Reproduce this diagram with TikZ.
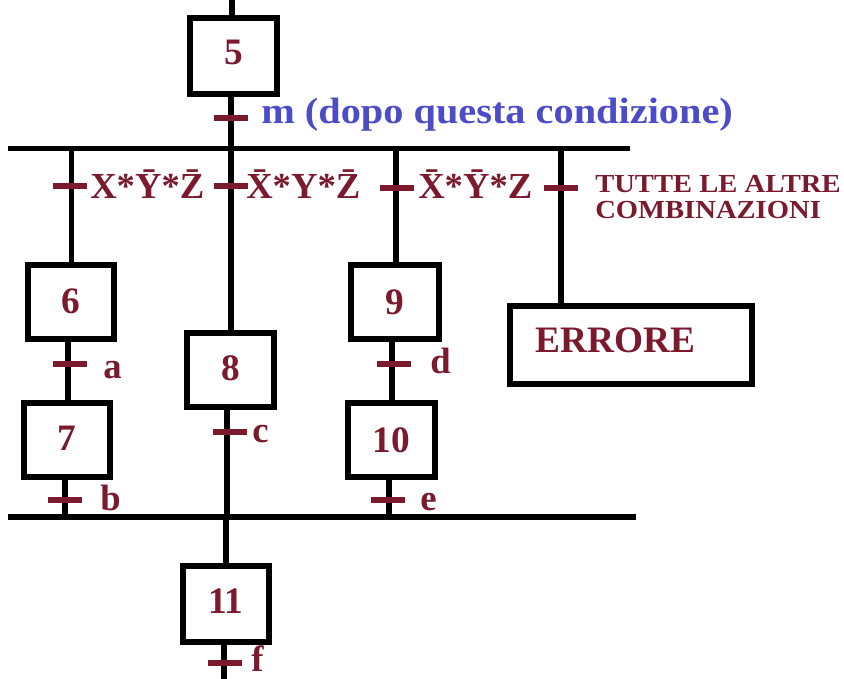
\documentclass[tikz,border=0pt]{standalone}
\usepackage{fontspec}
\setmainfont{Liberation Serif}
\newfontfamily\widefont[FakeStretch=1.1]{Liberation Serif}
\definecolor{maroon}{HTML}{7A1A2C}
\definecolor{bluelab}{HTML}{4C4CC8}
\begin{document}
\begin{tikzpicture}[x=0.75pt,y=-0.75pt,
  stepbox/.style={draw=black,line width=4.5pt,inner sep=0pt,font=\fontsize{28}{30}\selectfont\bfseries,text=maroon},
  tickn/.style={fill=maroon,inner sep=0pt,minimum width=25pt,minimum height=4.5pt},
  lab/.style={font=\fontsize{27.5}{30}\selectfont\bfseries,text=maroon,inner sep=0pt,anchor=base west},
  wire/.style={line width=4pt,black}]
\useasboundingbox (0,0) rectangle (844,679);
% steps
\node[stepbox,minimum width=65.25pt,minimum height=57pt,text depth=5pt] (s5) at (233.5,56) {5};
\node[stepbox,minimum width=64.5pt,minimum height=55.5pt,text depth=2pt] (s6) at (71,302) {6};
\node[stepbox,minimum width=64.5pt,minimum height=55.5pt,text depth=2pt] (s7) at (67,440) {7};
\node[stepbox,minimum width=65.25pt,minimum height=55.5pt,text depth=3pt] (s8) at (230.5,370) {8};
\node[stepbox,minimum width=66pt,minimum height=55.5pt] (s9) at (395,302) {9};
\node[stepbox,minimum width=65.25pt,minimum height=55.5pt] (s10) at (391.5,440) {10};
\node[stepbox,minimum width=64.5pt,minimum height=57pt,text depth=4pt] (s11) at (226,604) {11};
\node[stepbox,minimum width=181.5pt,minimum height=58.5pt] (err) at (631,345) {};
\node[lab,font=\fontsize{28}{30}\selectfont\bfseries] (errtxt) at (535,352) {ERRORE};
% bars and points
\coordinate (top) at (232,0);
\coordinate (barL) at (8,148.5);
\coordinate (barR) at (630,148.5);
\coordinate (j1) at (71.5,148.5);
\coordinate (j2) at (231,148.5);
\coordinate (j3) at (396,148.5);
\coordinate (j4) at (561,148.5);
\coordinate (botL) at (8,517);
\coordinate (botR) at (636,517);
\coordinate (k1) at (65,517);
\coordinate (k2) at (227,517);
\coordinate (k3) at (389,517);
\coordinate (bot) at (224,679);
\coordinate (m6) at (68,0);
\coordinate (m9) at (392,0);
% wires
\draw[wire] (top) -- (top |- s5.north);
\draw[wire] (s5.south -| j2) -- (j2);
\draw[wire] (barL) -- (barR);
\draw[wire] (j1) -- (j1 |- s6.north);
\draw[wire] (j2) -- (j2 |- s8.north);
\draw[wire] (j3) -- (j3 |- s9.north);
\draw[wire] (j4) -- (j4 |- err.north);
\draw[wire] (s6.south -| m6) -- (s7.north -| m6);
\draw[wire] (s9.south -| m9) -- (s10.north -| m9);
\draw[wire] (s7.south -| k1) -- (k1);
\draw[wire] (s8.south -| k2) -- (k2);
\draw[wire] (s10.south -| k3) -- (k3);
\draw[wire] (botL) -- (botR);
\draw[wire] (k2 -| s11) -- (s11.north);
\draw[wire] (s11.south -| bot) -- (bot);
% transitions
\node[tickn] (tm) at (231,118) {};
\node[lab,text=bluelab,font=\fontsize{27.5}{30}\widefont\bfseries] (lm) at (261,123) {m (dopo questa condizione)};
\node[tickn] (t1) at (70,186) {};
\node[lab] (l1) at (90,198) {X*\={Y}*\={Z}};
\node[tickn] (t2) at (231,186) {};
\node[lab] (l2) at (246,198) {\={X}*Y*\={Z}};
\node[tickn] (t3) at (397,188) {};
\node[lab] (l3) at (418,198) {\={X}*\={Y}*Z};
\node[tickn] (t4) at (561,188) {};
\node[lab,font=\fontsize{19.5}{20}\widefont\bfseries] (l4) at (595,192) {TUTTE LE ALTRE};
\node[lab,font=\fontsize{19.5}{20}\widefont\bfseries] (l4b) at (595,218) {COMBINAZIONI};
\node[tickn] (ta) at (70,364) {};
\node[lab] (la) at (103,378) {a};
\node[tickn] (tb) at (65,500) {};
\node[lab] (lb) at (100,510) {b};
\node[tickn] (tc) at (230,432) {};
\node[lab] (lc) at (252,442) {c};
\node[tickn] (td) at (394,364) {};
\node[lab] (ld) at (430,373) {d};
\node[tickn] (te) at (388,500) {};
\node[lab] (le) at (420,510) {e};
\node[tickn] (tf) at (225,663) {};
\node[lab] (lf) at (251,671) {f};
\end{tikzpicture}
\end{document}
